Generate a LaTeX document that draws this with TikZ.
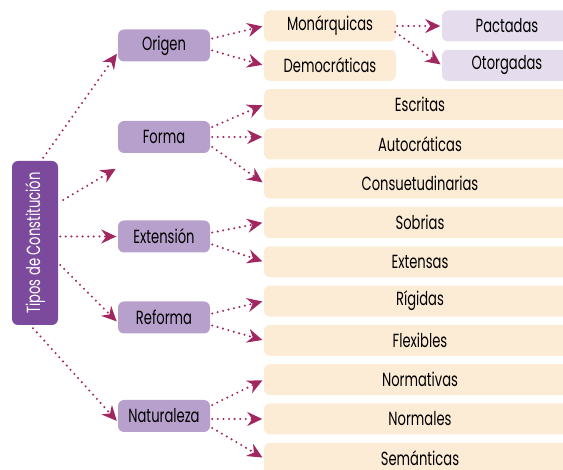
\documentclass[tikz,border=0pt]{standalone}
\usepackage{fontspec}
\setmainfont{Poppins}[FakeStretch=0.69]
\usetikzlibrary{arrows.meta}

\definecolor{rootpurple}{HTML}{7C4A9C}
\definecolor{typepurple}{HTML}{B7A0CC}
\definecolor{kindcream}{HTML}{FCEBD5}
\definecolor{sublilac}{HTML}{E5DDEE}
\definecolor{linkred}{HTML}{A0275F}

\begin{document}
\begin{tikzpicture}[x=1pt, y=-1pt,
    font=\fontsize{19}{21}\selectfont,
    root node/.style={rounded corners=6pt, fill=rootpurple, text=white, minimum width=46pt, minimum height=164pt, inner sep=0pt},
    type node/.style={rounded corners=6pt, fill=typepurple, minimum width=92pt, minimum height=32pt, inner sep=0pt},
    kind node/.style={rounded corners=6pt, fill=kindcream, minimum width=312pt, minimum height=31pt, inner sep=0pt},
    sub node/.style={rounded corners=6pt, fill=sublilac, minimum width=130pt, minimum height=31pt, inner sep=0pt},
    link/.style={draw=linkred, line width=2.3pt, line cap=round, dash pattern=on 0pt off 5.6pt,
      -{Stealth[length=15pt, width=14pt, inset=5pt, fill=linkred]}, shorten >=1.5pt},
    ]
  \useasboundingbox (0,0) rectangle (563,470);
  \clip (0,0) rectangle (563,470);
  \def\D{39.3}

  \node[root node] (root) at (35,243) {\rotatebox{90}{Tipos de Constitución}};

  \node[type node] (origen)     at (164,45.5)  {Origen};
  \node[type node] (forma)      at (164,137)   {Forma};
  \node[type node] (extension)  at (164,236.5) {Extensión};
  \node[type node] (reforma)    at (164,317.5) {Reforma};
  \node[type node] (naturaleza) at (164,416)   {Naturaleza};
  \coordinate (formaend) at (117,168);

  \node[kind node, minimum width=132pt] (monarq) at (330,26)        {Monárquicas};
  \node[kind node, minimum width=132pt] (democr) at (330,26+1*\D)   {Democráticas};
  \node[sub node] (pactadas)  at (507,26)      {Pactadas};
  \node[sub node] (otorgadas) at (507,26+1*\D) {Otorgadas};

  \node[kind node] (escritas)  at (420,26+2*\D)  {Escritas};
  \node[kind node] (autocr)    at (420,26+3*\D)  {Autocráticas};
  \node[kind node] (consuet)   at (420,26+4*\D)  {Consuetudinarias};
  \node[kind node] (sobrias)   at (420,26+5*\D)  {Sobrias};
  \node[kind node] (extensas)  at (420,26+6*\D)  {Extensas};
  \node[kind node] (rigidas)   at (420,26+7*\D)  {Rígidas};
  \node[kind node] (flexibles) at (420,26+8*\D)  {Flexibles};
  \node[kind node] (normativ)  at (420,26+9*\D)  {Normativas};
  \node[kind node] (normales)  at (420,26+10*\D) {Normales};
  \node[kind node] (semant)    at (420,26+11*\D) {Semánticas};

  % tipos
  \draw[link] ([shift={(-15pt,3pt)}]root.north east) -- ([yshift=-7pt]origen.west);
  \draw[link] ([shift={(5pt,43pt)}]root.east) -- (formaend);
  \draw[link] ([xshift=2pt]root.east |- extension.west) -- (extension.west);
  \draw[link] ([shift={(2pt,-22pt)}]root.east) -- ([yshift=-5pt]reforma.west);
  \draw[link] ([shift={(-2pt,-3pt)}]root.south) -- ([yshift=-6pt]naturaleza.west);

  % origen
  \draw[link] ([shift={(2pt,7pt)}]origen.east) -- (monarq.west);
  \draw[link] ([shift={(2pt,-5pt)}]origen.east) -- (democr.west);
  \draw[link] ([xshift=1pt]monarq.east) -- (pactadas.west);
  \draw[link] ([shift={(-1pt,-6pt)}]monarq.east) -- (otorgadas.west);

  % forma
  \draw[link] ([shift={(2pt,10pt)}]forma.east) -- (escritas.west);
  \draw[link] ([xshift=2pt]forma.east) -- (autocr.west |- forma.east);
  \draw[link] ([shift={(2pt,-10pt)}]forma.east) -- (consuet.west);

  % extension
  \draw[link] ([shift={(2pt,4pt)}]extension.east) -- (sobrias.west);
  \draw[link] ([shift={(2pt,-8pt)}]extension.east) -- (extensas.west);

  % reforma
  \draw[link] ([shift={(2pt,4pt)}]reforma.east) -- (rigidas.west);
  \draw[link] ([shift={(2pt,-8pt)}]reforma.east) -- (flexibles.west);

  % naturaleza
  \draw[link] ([shift={(2pt,11pt)}]naturaleza.east) -- (normativ.west);
  \draw[link] ([shift={(2pt,-3pt)}]naturaleza.east) -- (normales.west);
  \draw[link] ([shift={(2pt,-12pt)}]naturaleza.east) -- (semant.west);
\end{tikzpicture}
\end{document}
